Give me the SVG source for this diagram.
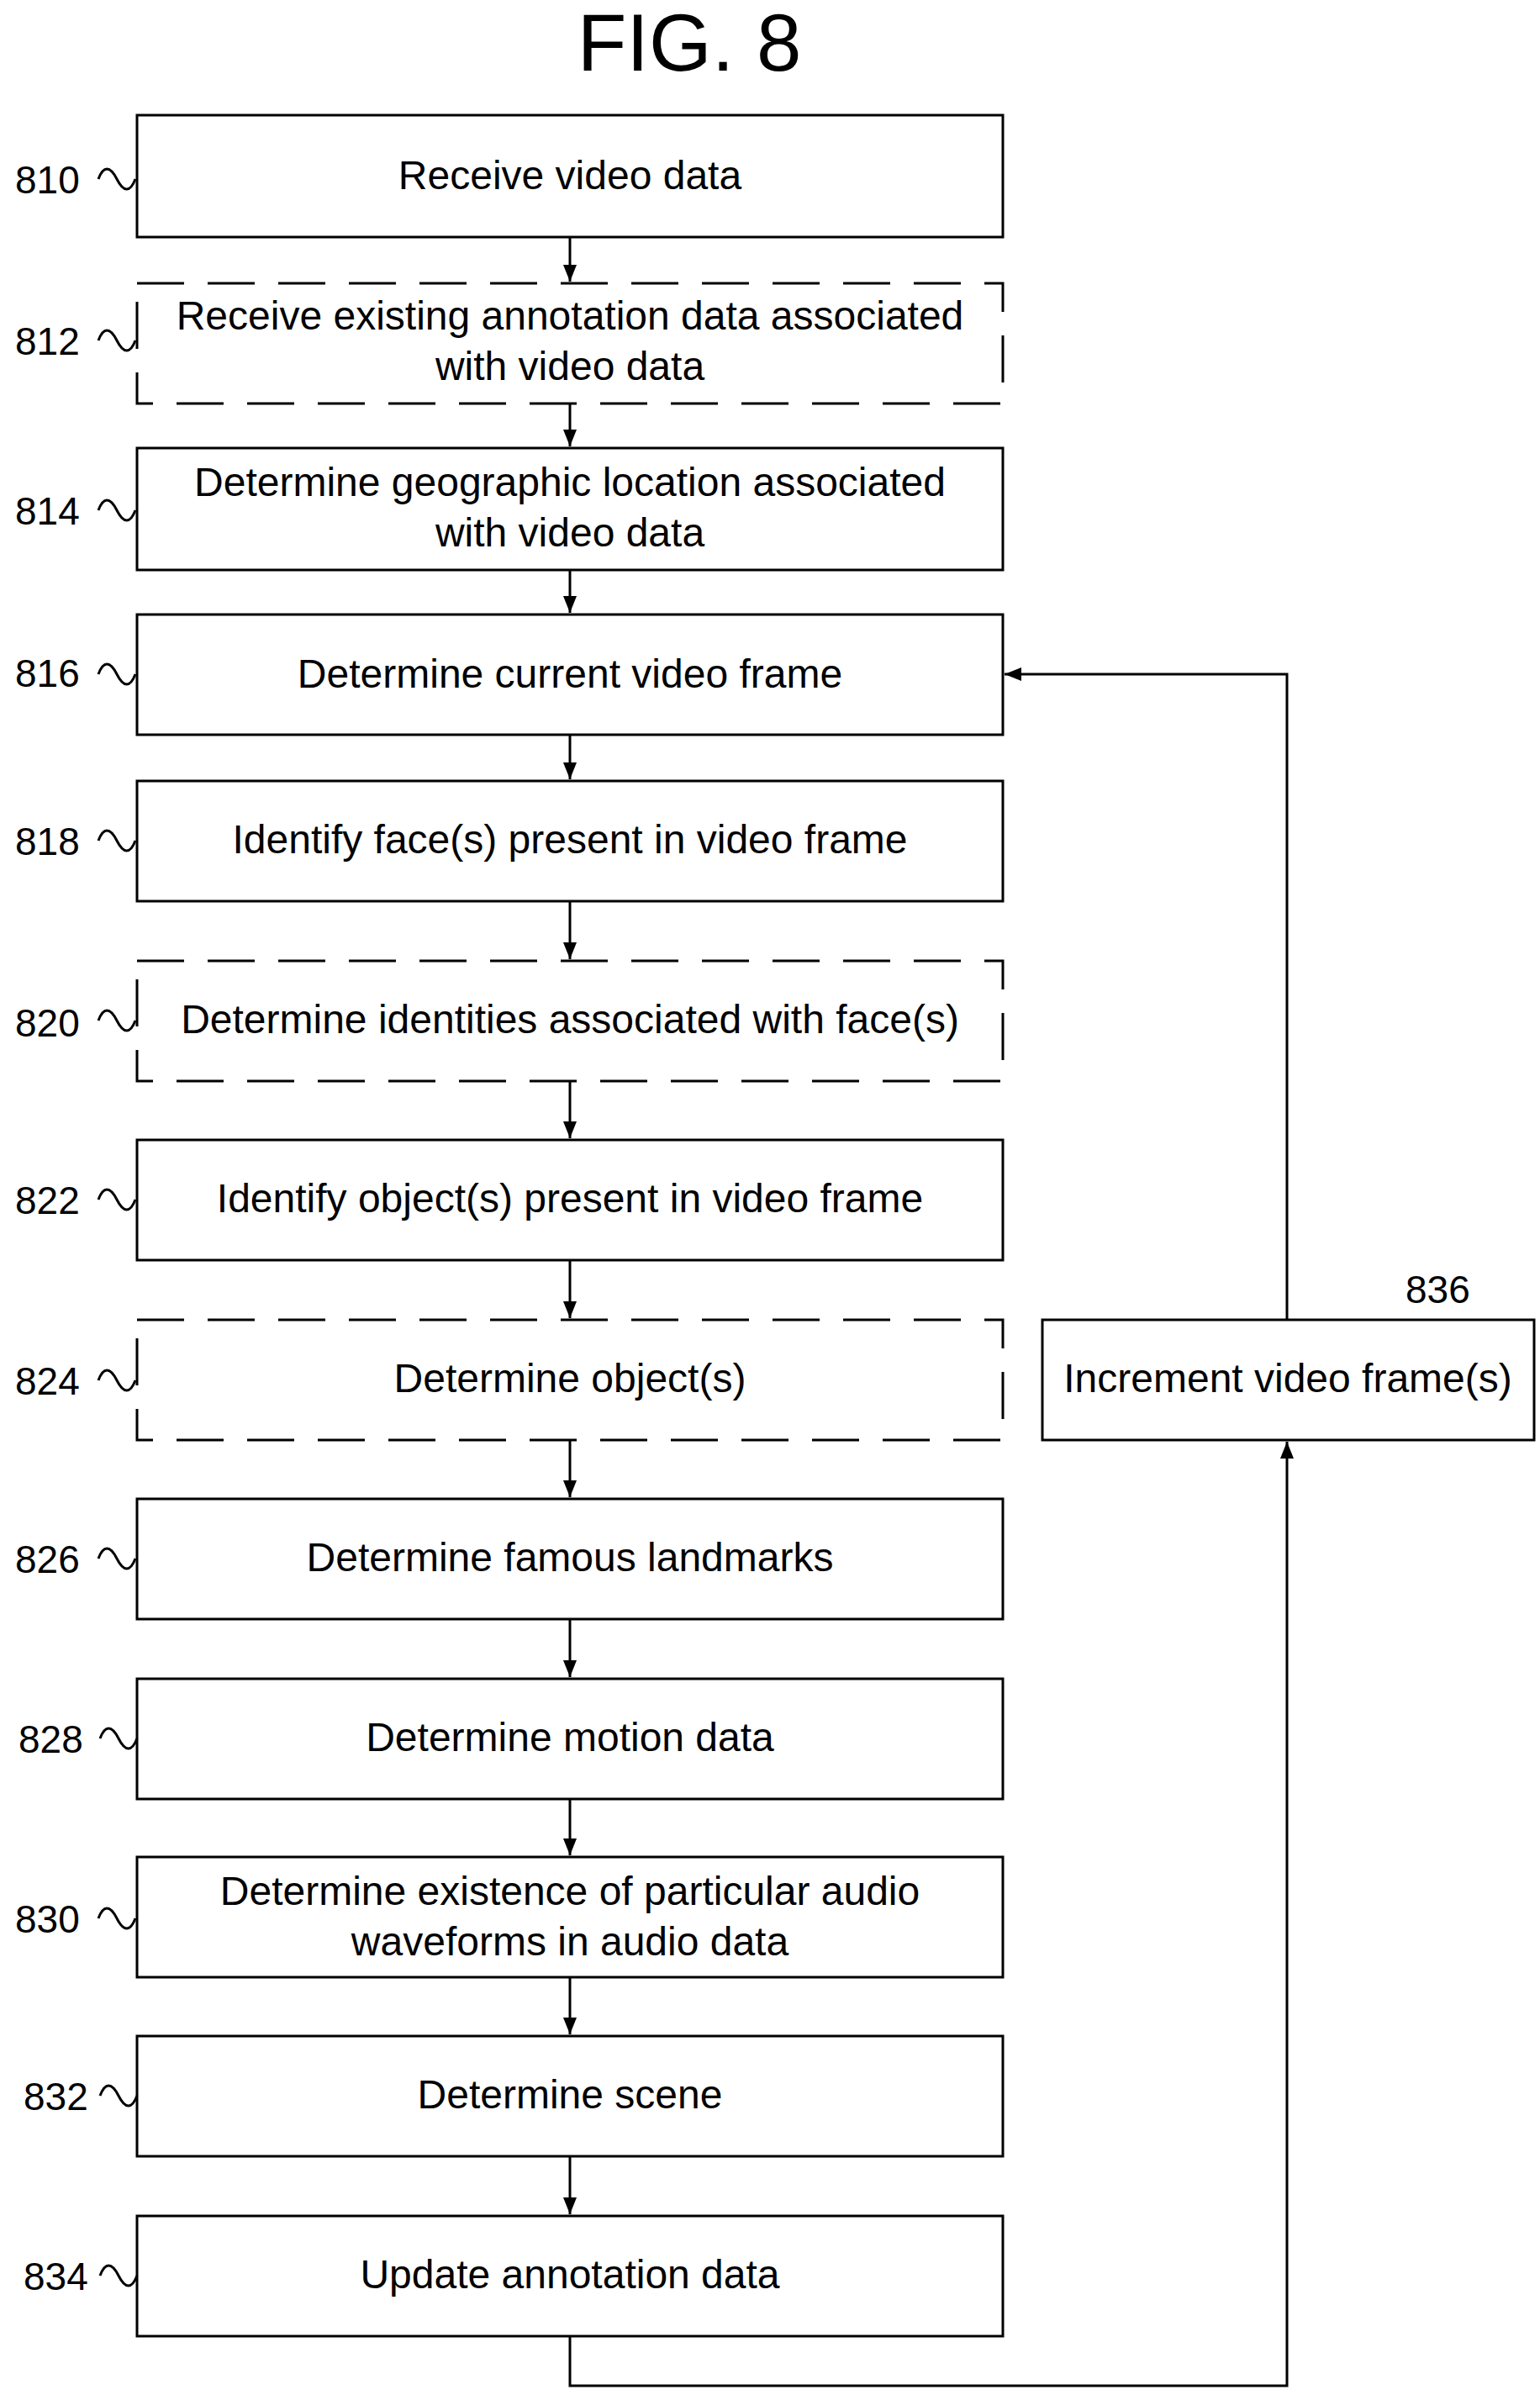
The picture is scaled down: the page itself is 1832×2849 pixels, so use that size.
<svg xmlns="http://www.w3.org/2000/svg" width="1832" height="2849" viewBox="0 0 1832 2849">
<defs>
<style>
.b{fill:#fff;stroke:#000;stroke-width:3}
.d{fill:#fff;stroke:#000;stroke-width:3;stroke-dasharray:56 28}
.t{font-family:"Liberation Sans",Arial,sans-serif;font-size:48px;text-anchor:middle;fill:#000}
.l{font-family:"Liberation Sans",Arial,sans-serif;font-size:46px;fill:#000}
.c{fill:none;stroke:#000;stroke-width:3}
.ti{fill:none;stroke:#000;stroke-width:3}
</style>
<marker id="A" markerWidth="22" markerHeight="20" refX="20" refY="10" orient="auto" markerUnits="userSpaceOnUse"><path d="M0,2 L20,10 L0,18 z" fill="#000"/></marker>
<path id="tl" d="M0,4 c6,-16 14,-16 22,0 s16,16 22,0"/>
</defs>
<text x="820" y="84" style="font-family:'Liberation Sans',Arial,sans-serif;font-size:96px;text-anchor:middle">FIG. 8</text>
<g id="connectors">
<line class="c" x1="678" y1="282" x2="678" y2="335" marker-end="url(#A)"/>
<line class="c" x1="678" y1="480" x2="678" y2="531" marker-end="url(#A)"/>
<line class="c" x1="678" y1="678" x2="678" y2="729" marker-end="url(#A)"/>
<line class="c" x1="678" y1="874" x2="678" y2="927" marker-end="url(#A)"/>
<line class="c" x1="678" y1="1072" x2="678" y2="1141" marker-end="url(#A)"/>
<line class="c" x1="678" y1="1286" x2="678" y2="1354" marker-end="url(#A)"/>
<line class="c" x1="678" y1="1499" x2="678" y2="1568" marker-end="url(#A)"/>
<line class="c" x1="678" y1="1713" x2="678" y2="1781" marker-end="url(#A)"/>
<line class="c" x1="678" y1="1926" x2="678" y2="1995" marker-end="url(#A)"/>
<line class="c" x1="678" y1="2140" x2="678" y2="2207" marker-end="url(#A)"/>
<line class="c" x1="678" y1="2352" x2="678" y2="2420" marker-end="url(#A)"/>
<line class="c" x1="678" y1="2565" x2="678" y2="2634" marker-end="url(#A)"/>
<polyline class="c" points="678,2779 678,2838 1531,2838 1531,1715" marker-end="url(#A)"/>
<polyline class="c" points="1531,1570 1531,802 1195,802" marker-end="url(#A)"/>
</g>
<g id="n810"><rect class="b" x="163" y="137" width="1030" height="145"/><text class="t" x="678" y="225">Receive video data</text><text class="l" x="18" y="230">810</text><use href="#tl" class="ti" x="117" y="209"/></g>
<g id="n812"><rect class="d" x="163" y="337" width="1030" height="143"/><text class="t" x="678" y="392">Receive existing annotation data associated</text><text class="t" x="678" y="452">with video data</text><text class="l" x="18" y="422">812</text><use href="#tl" class="ti" x="117" y="401"/></g>
<g id="n814"><rect class="b" x="163" y="533" width="1030" height="145"/><text class="t" x="678" y="590">Determine geographic location associated</text><text class="t" x="678" y="650">with video data</text><text class="l" x="18" y="624">814</text><use href="#tl" class="ti" x="117" y="603"/></g>
<g id="n816"><rect class="b" x="163" y="731" width="1030" height="143"/><text class="t" x="678" y="818">Determine current video frame</text><text class="l" x="18" y="817">816</text><use href="#tl" class="ti" x="117" y="798"/></g>
<g id="n818"><rect class="b" x="163" y="929" width="1030" height="143"/><text class="t" x="678" y="1015">Identify face(s) present in video frame</text><text class="l" x="18" y="1017">818</text><use href="#tl" class="ti" x="117" y="996"/></g>
<g id="n820"><rect class="d" x="163" y="1143" width="1030" height="143"/><text class="t" x="678" y="1229">Determine identities associated with face(s)</text><text class="l" x="18" y="1233">820</text><use href="#tl" class="ti" x="117" y="1210"/></g>
<g id="n822"><rect class="b" x="163" y="1356" width="1030" height="143"/><text class="t" x="678" y="1442">Identify object(s) present in video frame</text><text class="l" x="18" y="1444">822</text><use href="#tl" class="ti" x="117" y="1423"/></g>
<g id="n824"><rect class="d" x="163" y="1570" width="1030" height="143"/><text class="t" x="678" y="1656">Determine object(s)</text><text class="l" x="18" y="1659">824</text><use href="#tl" class="ti" x="117" y="1638"/></g>
<g id="n826"><rect class="b" x="163" y="1783" width="1030" height="143"/><text class="t" x="678" y="1869">Determine famous landmarks</text><text class="l" x="18" y="1871">826</text><use href="#tl" class="ti" x="117" y="1850"/></g>
<g id="n828"><rect class="b" x="163" y="1997" width="1030" height="143"/><text class="t" x="678" y="2083">Determine motion data</text><text class="l" x="22" y="2085">828</text><use href="#tl" class="ti" x="119" y="2064"/></g>
<g id="n830"><rect class="b" x="163" y="2209" width="1030" height="143"/><text class="t" x="678" y="2266">Determine existence of particular audio</text><text class="t" x="678" y="2326">waveforms in audio data</text><text class="l" x="18" y="2299">830</text><use href="#tl" class="ti" x="117" y="2278"/></g>
<g id="n832"><rect class="b" x="163" y="2422" width="1030" height="143"/><text class="t" x="678" y="2508">Determine scene</text><text class="l" x="28" y="2510">832</text><use href="#tl" class="ti" x="119" y="2489"/></g>
<g id="n834"><rect class="b" x="163" y="2636" width="1030" height="143"/><text class="t" x="678" y="2722">Update annotation data</text><text class="l" x="28" y="2724">834</text><use href="#tl" class="ti" x="119" y="2703"/></g>
<g id="n836"><rect class="b" x="1240" y="1570" width="585" height="143"/><text class="t" x="1532" y="1656">Increment video frame(s)</text><text class="l" x="1672" y="1550">836</text></g>
</svg>
